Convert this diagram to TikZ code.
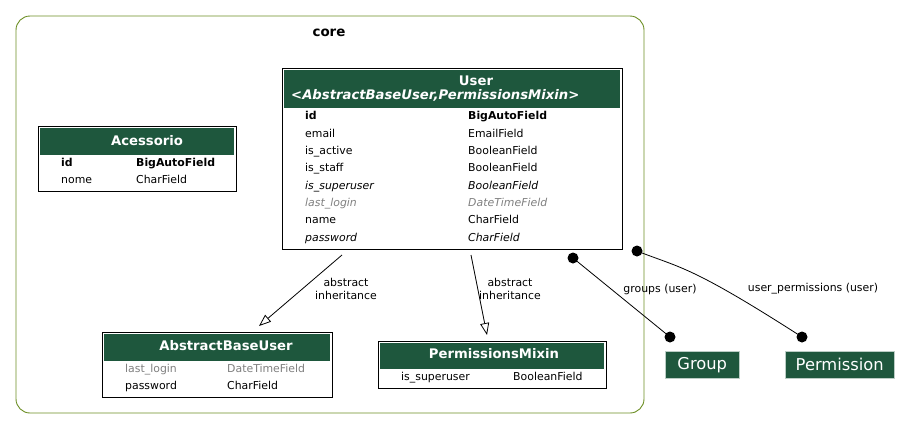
\documentclass[tikz,border=0pt]{standalone}
\usepackage{fontspec}
\setmainfont{DejaVu Sans}
\usetikzlibrary{arrows.meta}
\definecolor{hdr}{RGB}{30,87,61}
\definecolor{clus}{RGB}{107,142,35}
\definecolor{grayt}{RGB}{128,128,128}
\tikzset{
  tbox/.style={draw=black, line width=0.9pt, fill=white, anchor=north west, inner sep=0pt},
  hbox/.style={fill=hdr, anchor=north west, inner sep=0pt},
  ttl/.style={text=white, font=\fontsize{13.2}{14}\selectfont\bfseries, inner sep=0pt},
  fld/.style={anchor=base west, inner sep=0pt, font=\fontsize{10.9}{12}\selectfont},
  fldb/.style={fld, font=\fontsize{10.9}{12}\selectfont\bfseries},
  fldi/.style={fld, font=\fontsize{10.9}{12}\selectfont\itshape},
  fldg/.style={fld, font=\fontsize{10.9}{12}\selectfont\itshape, text=grayt},
  fldgu/.style={fld, text=grayt},
  ext/.style={fill=hdr, draw=white!70!hdr, anchor=north west, inner sep=0pt, text=white, font=\fontsize{16.3}{17}\selectfont},
  lbl/.style={font=\fontsize{10.9}{13}\selectfont, align=center, inner sep=0pt},
  dot/.style={circle, fill=black, inner sep=0pt, minimum size=11pt},
  inh/.style={-{Triangle[open, length=12pt, width=9pt]}, line width=0.8pt},
  rel/.style={line width=0.8pt}
}
\begin{document}
\begin{tikzpicture}[x=1pt,y=-1pt]
\useasboundingbox (0,0) rectangle (911,429);
% cluster
\draw[clus, line width=0.9pt, rounded corners=14pt] (16,16) rectangle (644,413);
\node[font=\fontsize{13.4}{14}\selectfont\bfseries, inner sep=0pt] (core) at (329,33) {core};

% Acessorio
\node[tbox, minimum width=198pt, minimum height=65pt] (acc) at (38,126) {};
\node[hbox, minimum width=194pt, minimum height=27pt] (acch) at (40,128) {};
\node[ttl] (acct) at (147,141) {Acessorio};
\node[fldb] (acc1a) at (61,166) {id};
\node[fldb] (acc1b) at (136,166) {BigAutoField};
\node[fld] (acc2a) at (61,183) {nome};
\node[fld] (acc2b) at (136,183) {CharField};

% User
\node[tbox, minimum width=340pt, minimum height=181pt] (usr) at (282,68) {};
\node[hbox, minimum width=336pt, minimum height=38pt] (usrh) at (284,70) {};
\node[ttl] (usrt) at (476,81) {User};
\node[ttl, anchor=west, font=\fontsize{13.2}{14}\selectfont\bfseries\itshape] (usrt2) at (291,95) {<AbstractBaseUser,PermissionsMixin>};
\node[fldb] (u1a) at (305,119) {id};
\node[fldb] (u1b) at (468,119) {BigAutoField};
\node[fld] (u2a) at (305,137) {email};
\node[fld] (u2b) at (468,137) {EmailField};
\node[fld] (u3a) at (305,154) {is\_active};
\node[fld] (u3b) at (468,154) {BooleanField};
\node[fld] (u4a) at (305,171) {is\_staff};
\node[fld] (u4b) at (468,171) {BooleanField};
\node[fldi] (u5a) at (305,189) {is\_superuser};
\node[fldi] (u5b) at (468,189) {BooleanField};
\node[fldg] (u6a) at (305,206) {last\_login};
\node[fldg] (u6b) at (468,206) {DateTimeField};
\node[fld] (u7a) at (305,223) {name};
\node[fld] (u7b) at (468,223) {CharField};
\node[fldi] (u8a) at (305,241) {password};
\node[fldi] (u8b) at (468,241) {CharField};

% AbstractBaseUser
\node[tbox, minimum width=230pt, minimum height=65pt] (abu) at (102,332) {};
\node[hbox, minimum width=226pt, minimum height=27pt] (abuh) at (104,334) {};
\node[ttl] (abut) at (226,346) {AbstractBaseUser};
\node[fldgu] (a1a) at (125,372) {last\_login};
\node[fldgu] (a1b) at (227,372) {DateTimeField};
\node[fld] (a2a) at (125,389) {password};
\node[fld] (a2b) at (227,389) {CharField};

% PermissionsMixin
\node[tbox, minimum width=228pt, minimum height=47pt] (pm) at (378,341) {};
\node[hbox, minimum width=224pt, minimum height=26pt] (pmh) at (380,343) {};
\node[ttl] (pmt) at (494,354) {PermissionsMixin};
\node[fld] (p1a) at (401,380) {is\_superuser};
\node[fld] (p1b) at (513,380) {BooleanField};

% external
\node[ext, minimum width=74pt, minimum height=27pt] (grp) at (665,351) {Group};
\node[ext, minimum width=109pt, minimum height=27pt] (perm) at (785,351) {Permission};

% edges
\coordinate (e1s) at (342,255);
\coordinate (e1t) at (259,326);
\draw[inh] (e1s) -- (e1t);
\node[lbl] (l1) at (346,289) {abstract\\inheritance};
\coordinate (e2s) at (471,255);
\coordinate (e2t) at (487,335);
\draw[inh] (e2s) -- (e2t);
\node[lbl] (l2) at (510,289) {abstract\\inheritance};

\node[dot] (d1) at (573,258) {};
\node[dot] (d2) at (670,337) {};
\draw[rel] (d1.center) -- (d2.center);
\node[lbl] (l3) at (660,289) {groups (user)};

\node[dot] (d3) at (637,251) {};
\node[dot] (d4) at (802,337) {};
\draw[rel] (d3.center) .. controls (680,268) and (690,265) .. (d4.center);
\node[lbl] (l4) at (813,289) {user\_permissions (user)};
\end{tikzpicture}
\end{document}
